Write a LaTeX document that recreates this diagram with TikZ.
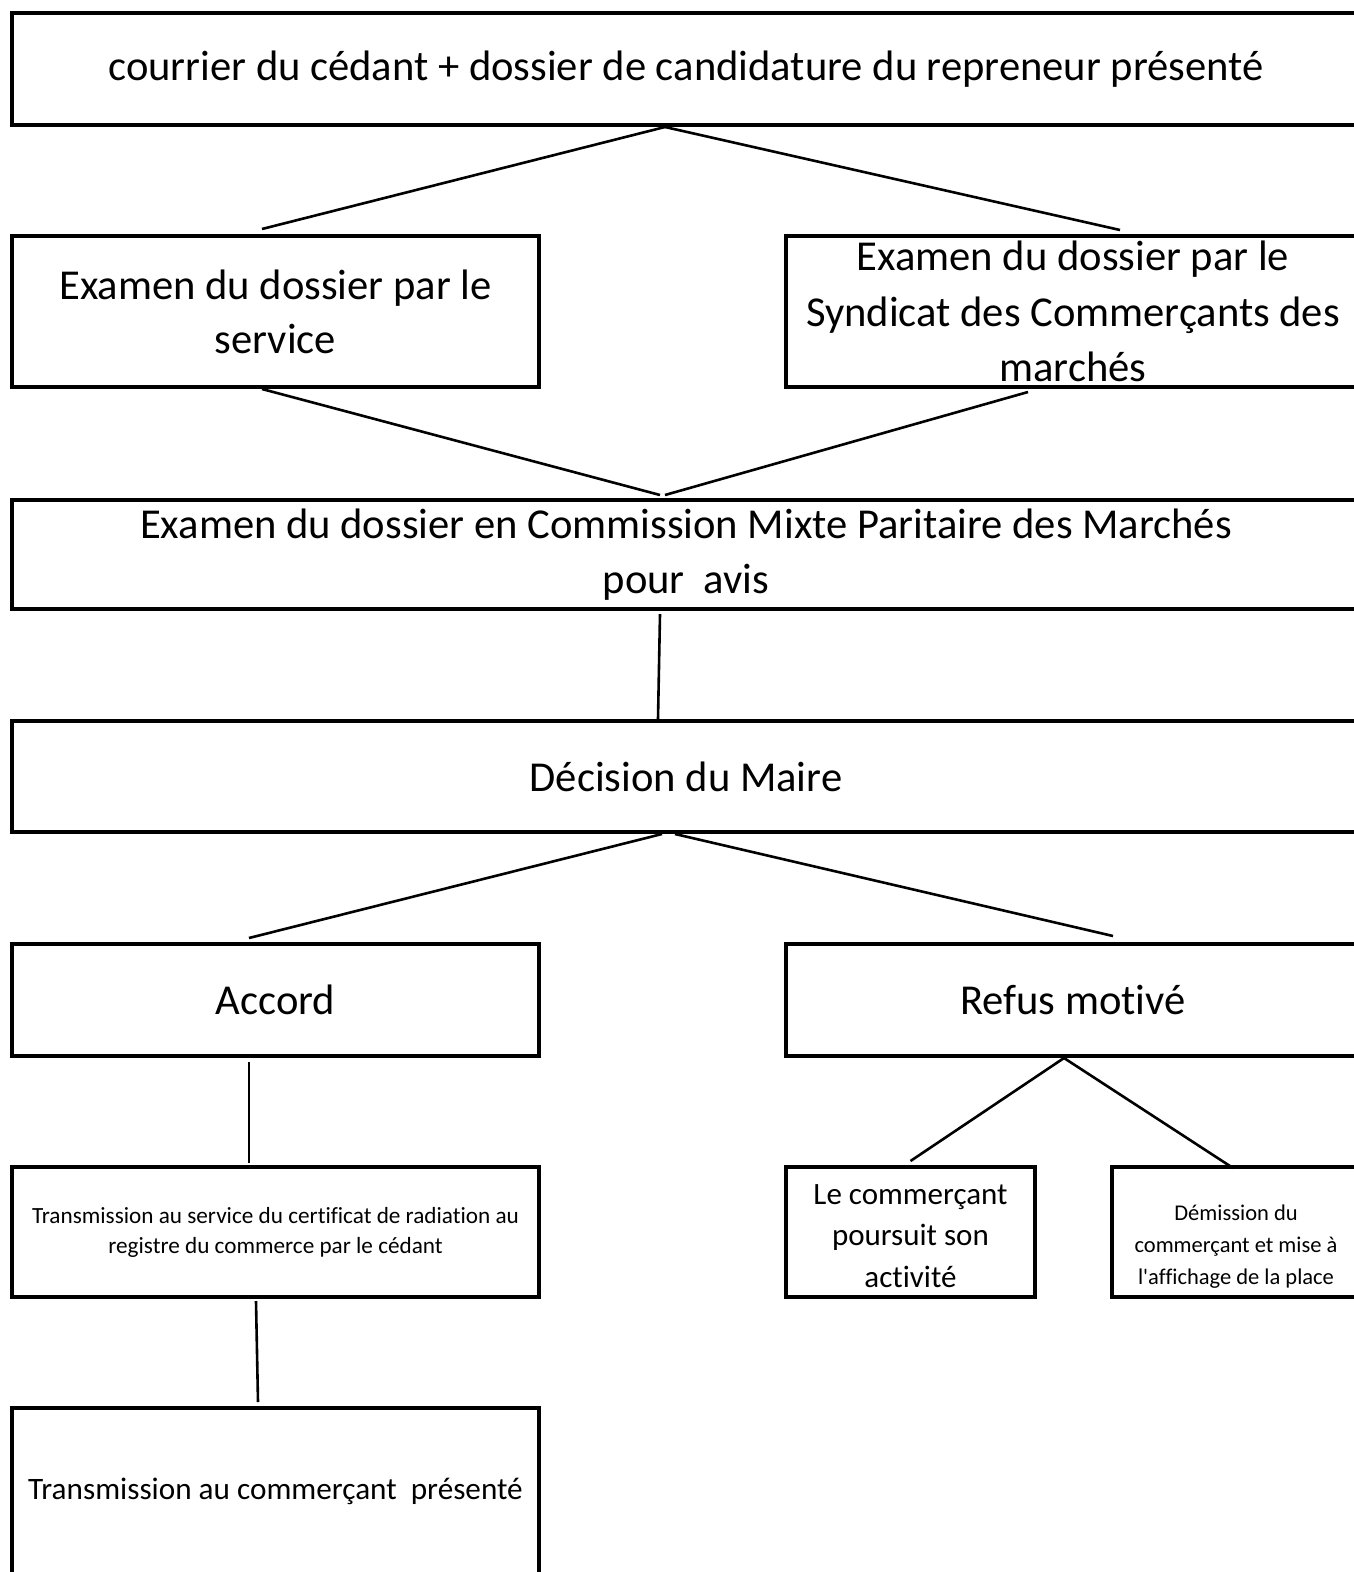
\documentclass[tikz,border=0pt]{standalone}
\usepackage{fontspec}
\newfontfamily\calibri{Carlito}[Ligatures=NoCommon]
\tikzset{
  etape/.style={draw, line width=4pt, rectangle, inner sep=0pt, align=center},
  lien/.style={line width=2.6pt},
}
\begin{document}
\begin{tikzpicture}[x=1pt,y=-1pt]
   % cadre de la page
   \useasboundingbox (0,0) rectangle (1354,1572);

   % etapes
   \node[etape, minimum width=1348, minimum height=112, font=\calibri\fontsize{42.6}{54}\selectfont] (dossier) at (686,69) {courrier du cédant + dossier de candidature du repreneur présenté};
   \node[etape, minimum width=527, minimum height=151, font=\calibri\fontsize{42.6}{54}\selectfont] (service) at (275.5,311.5) {Examen du dossier par le\\service};
   \node[etape, minimum width=574, minimum height=151, font=\calibri\fontsize{42.6}{55.5}\selectfont] (syndicat) at (1073,311.5) {Examen du dossier par le\\Syndicat des Commerçants des\\marchés};
   \node[etape, minimum width=1348, minimum height=109, font=\calibri\fontsize{42.6}{55}\selectfont] (commission) at (686,554.5) {Examen du dossier en Commission Mixte Paritaire des Marchés\\pour~ avis};
   \node[etape, minimum width=1348, minimum height=111, font=\calibri\fontsize{42.6}{54}\selectfont] (maire) at (686,776.5) {Décision du Maire};
   \node[etape, minimum width=527, minimum height=112, font=\calibri\fontsize{42.6}{54}\selectfont] (accord) at (275.5,1000) {Accord};
   \node[etape, minimum width=574, minimum height=112, font=\calibri\fontsize{42.6}{54}\selectfont] (refus) at (1073,1000) {Refus motivé};
   \node[etape, minimum width=527, minimum height=130, font=\calibri\fontsize{23.2}{30}\selectfont] (radiation) at (275.5,1232) {Transmission au service du certificat de radiation au\\registre du commerce par le cédant};
   \node[etape, minimum width=249, minimum height=130, font=\calibri\fontsize{31}{41.5}\selectfont] (poursuit) at (910.5,1232) {\raisebox{-11.8pt}[0pt][0pt]{\begin{tabular}{@{}c@{}}Le commerçant\\poursuit son\\activité\end{tabular}}};
   \node[etape, minimum width=248, minimum height=130, font=\calibri\fontsize{22.5}{32}\selectfont] (demission) at (1236,1232) {\raisebox{-19.6pt}[0pt][0pt]{\begin{tabular}{@{}c@{}}Démission du\\commerçant et mise à\\l'affichage de la place\end{tabular}}};
   \node[etape, minimum width=527, minimum height=166, font=\calibri\fontsize{31.2}{38}\selectfont] (presente) at (275.5,1491) {Transmission au commerçant~ présenté};

   % liens
   \draw[lien] ([xshift=-21]dossier.south) -- ([xshift=-13.5,yshift=5]service.north);
   \draw[lien] ([xshift=-21]dossier.south) -- ([xshift=47,yshift=4]syndicat.north);
   \draw[lien] ([xshift=-13.5]service.south) -- ([xshift=-26,yshift=3]commission.north);
   \draw[lien] ([xshift=-45,yshift=-3]syndicat.south) -- ([xshift=-21,yshift=3]commission.north);
   \draw[lien] ([xshift=-26,yshift=-3]commission.south) -- ([xshift=-28]maire.north);
   \draw[lien] ([xshift=-24]maire.south) -- ([xshift=-26.5,yshift=4]accord.north);
   \draw[lien] ([xshift=-11]maire.south) -- ([xshift=40,yshift=6]refus.north);
   \draw[lien] ([xshift=-26.5,yshift=-4]accord.south) -- ([xshift=-26.5,yshift=2]radiation.north);
   \draw[lien] ([xshift=-9]refus.south) -- ([yshift=4]poursuit.north);
   \draw[lien] ([xshift=-9]refus.south) -- ([xshift=-3,yshift=-3]demission.north);
   \draw[lien] ([xshift=-19.5,yshift=-2]radiation.south) -- ([xshift=-17.5,yshift=4]presente.north);
\end{tikzpicture}
\end{document}
